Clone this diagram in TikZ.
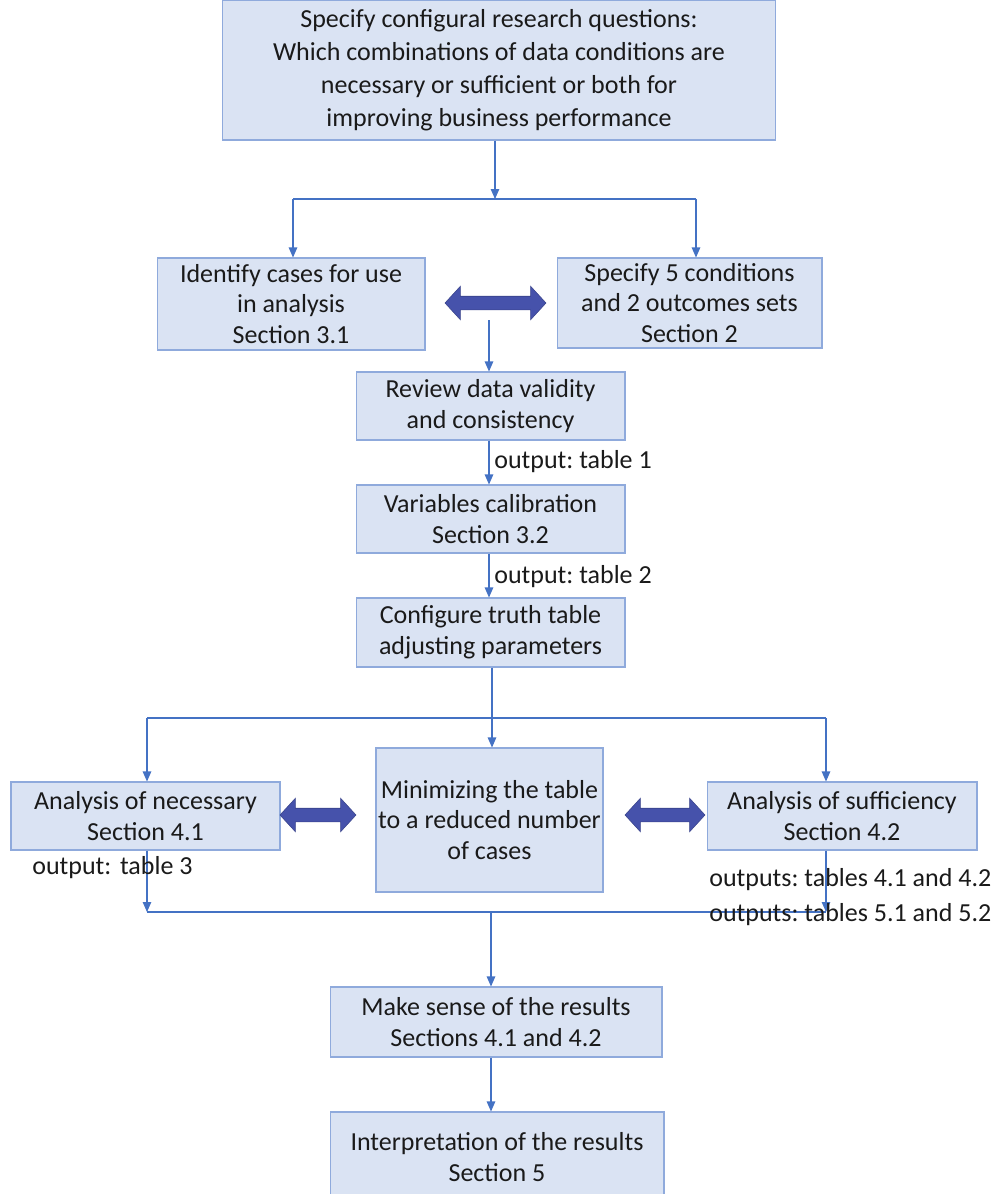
\documentclass[tikz,border=0pt]{standalone}
\usepackage{fontspec}
\setmainfont{Carlito}
\usetikzlibrary{arrows.meta,shapes.arrows}
\definecolor{boxfill}{HTML}{DAE3F3}
\definecolor{boxline}{HTML}{8FAADC}
\definecolor{arrline}{HTML}{4472C4}
\definecolor{fatarr}{HTML}{4652AB}
\definecolor{txt}{HTML}{1A1A1A}
\frenchspacing
\begin{document}
\begin{tikzpicture}[x=0.02cm,y=-0.02cm,
  every node/.style={text=txt,font=\fontsize{14.8}{17.5}\selectfont},
  box/.style={draw=boxline,fill=boxfill,line width=0.6pt,align=center,inner sep=0pt},
  line/.style={draw=arrline,line width=0.6pt},
  arr/.style={line,-{Triangle[length=0.2cm,width=0.17cm]}},
  twoway/.style={double arrow,fill=fatarr,draw=fatarr!80!black,line width=0.3pt,
    minimum height=#1,double arrow head extend=0.2cm,
    double arrow tip angle=95,inner xsep=0pt,inner ysep=0.13cm},
  outlbl/.style={anchor=west,inner sep=0pt}]
\useasboundingbox (0,0) rectangle (998,1194);
% boxes
\node[box,minimum width=11.08cm,minimum height=2.8cm,font=\fontsize{14.8}{18.8}\selectfont] (top) at (499,70)
  {Specify configural research questions:\\Which combinations of data conditions are\\necessary or sufficient or both for\\improving business performance};
\node[box,minimum width=5.36cm,minimum height=1.84cm] (ident) at (291,304) {Identify cases for use\\in analysis\\Section 3.1};
\node[box,minimum width=5.3cm,minimum height=1.8cm] (spec) at (689.5,303) {Specify 5 conditions\\and 2 outcomes sets\\Section 2};
\node[box,minimum width=5.38cm,minimum height=1.36cm] (review) at (490.5,406) {Review data validity\\and consistency};
\node[box,minimum width=5.38cm,minimum height=1.36cm] (calib) at (490.5,519) {Variables calibration\\Section 3.2};
\node[box,minimum width=5.38cm,minimum height=1.38cm] (config) at (490.5,632.5) {Configure truth table\\adjusting parameters};
\node[box,minimum width=5.38cm,minimum height=1.36cm] (nec) at (145.5,816) {Analysis of necessary\\Section 4.1};
\node[box,minimum width=4.54cm,minimum height=2.88cm] (mini) at (489.5,820) {Minimizing the table\\to a reduced number\\of cases};
\node[box,minimum width=5.4cm,minimum height=1.36cm] (suff) at (842,816) {Analysis of sufficiency\\Section 4.2};
\node[box,minimum width=6.64cm,minimum height=1.4cm] (sense) at (496,1022) {Make sense of the results\\Sections 4.1 and 4.2};
\node[box,minimum width=6.68cm,minimum height=1.8cm] (interp) at (497,1157) {Interpretation of the results\\Section 5};
% two-way arrows
\node[twoway=2.02cm] (dblA) at (495.5,303) {};
\node[twoway=1.52cm] (dblB) at (318,815) {};
\node[twoway=1.6cm] (dblC) at (665,815) {};
% split after the question
\coordinate (splitA) at (495,199);
\coordinate (leftA) at (293,199);
\coordinate (rightA) at (696,199);
\draw[arr] (top.south -| splitA) -- (splitA);
\draw[line] (leftA) -- (rightA);
\draw[arr] (leftA) -- (leftA |- ident.north);
\draw[arr] (rightA) -- (rightA |- spec.north);
\coordinate (revIn) at (489,320);
\draw[arr] (revIn) -- (revIn |- review.north);
\draw[arr] (revIn |- review.south) -- (revIn |- calib.north);
\node[outlbl] (out1) at (494,462) {output: table 1};
\draw[arr] (revIn |- calib.south) -- (revIn |- config.north);
\node[outlbl] (out2) at (494,577) {output: table 2};
% split after the truth table
\coordinate (splitB) at (492,718);
\coordinate (leftB) at (147,718);
\coordinate (rightB) at (826,718);
\draw[line] (splitB |- config.south) -- (splitB);
\draw[arr] (splitB) -- (splitB |- mini.north);
\draw[line] (leftB) -- (rightB);
\draw[arr] (leftB) -- (leftB |- nec.north);
\draw[arr] (rightB) -- (rightB |- suff.north);
% join of the outputs
\coordinate (leftC) at (147,912);
\coordinate (rightC) at (826,912);
\coordinate (joinC) at (491,912);
\draw[arr] (leftC |- nec.south) -- (leftC);
\draw[arr] (rightC |- suff.south) -- (rightC);
\draw[line] (leftC) -- (rightC);
\draw[arr] (joinC) -- (joinC |- sense.north);
\node[outlbl] (out3) at (32,868) {output:\,\,table 3};
\node[outlbl] (out4) at (709,880) {outputs: tables 4.1 and 4.2};
\node[outlbl] (out5) at (709,915) {outputs: tables 5.1 and 5.2};
\draw[arr] (sense.south -| joinC) -- (interp.north -| joinC);
\end{tikzpicture}
\end{document}
